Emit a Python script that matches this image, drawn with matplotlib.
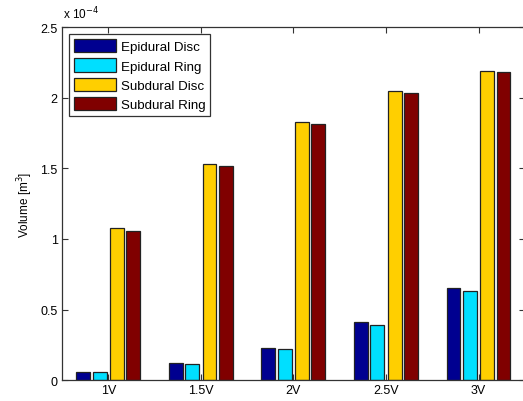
import numpy as np
import matplotlib
matplotlib.use("Agg")
import matplotlib.pyplot as plt

plt.rcParams["font.family"] = ["Liberation Sans", "DejaVu Sans"]

voltages = ["1V", "1.5V", "2V", "2.5V", "3V"]
series = ["Epidural Disc", "Epidural Ring", "Subdural Disc", "Subdural Ring"]
# volumes in units of 1e-4 m^3
epidural_disc = [0.058, 0.122, 0.227, 0.415, 0.65]
epidural_ring = [0.057, 0.113, 0.217, 0.39, 0.628]
subdural_disc = [1.077, 1.53, 1.825, 2.045, 2.19]
subdural_ring = [1.057, 1.515, 1.815, 2.03, 2.185]
colors = ["#000090", "#00DFFF", "#FFCF00", "#800000"]

fig = plt.figure(figsize=(5.23, 4.02), dpi=100)
ax = fig.add_axes([0.1185, 0.052, 0.885, 0.878])

x = np.arange(1, len(voltages) + 1)
offsets = [-0.27, -0.094, 0.094, 0.27]
data = [epidural_disc, epidural_ring, subdural_disc, subdural_ring]
for vals, off, c, name in zip(data, offsets, colors, series):
    ax.bar(x + off, vals, width=0.15, color=c, edgecolor="#222222",
           linewidth=0.9, label=name)

ax.set_xlim(0.5, 5.5)
ax.set_ylim(0, 2.5)
ax.set_xticks(x)
ax.set_xticklabels(voltages)
ax.set_yticks([0, 0.5, 1, 1.5, 2, 2.5])
ax.set_yticklabels(["0", "0.5", "1", "1.5", "2", "2.5"])
ax.tick_params(direction="in", top=True, right=True, labelsize=9,
               length=4, width=0.8, color="#333333", pad=3)
for s in ax.spines.values():
    s.set_color("#333333")
    s.set_linewidth(0.9)

ax.set_ylabel("Volume [m$^3$]", fontsize=8.5, labelpad=4)
fig.text(0.12, 0.945, "x 10$^{-4}$", fontsize=8.5, ha="left", va="bottom")

leg = ax.legend(loc="upper left", bbox_to_anchor=(0.015, 0.98), fontsize=9.6,
                fancybox=False, framealpha=1, edgecolor="#333333",
                handlelength=3.15, handleheight=1.15, labelspacing=0.38,
                borderpad=0.38, handletextpad=0.35, borderaxespad=0)
leg.get_frame().set_linewidth(0.9)

fig.savefig("out.png", dpi=100)
